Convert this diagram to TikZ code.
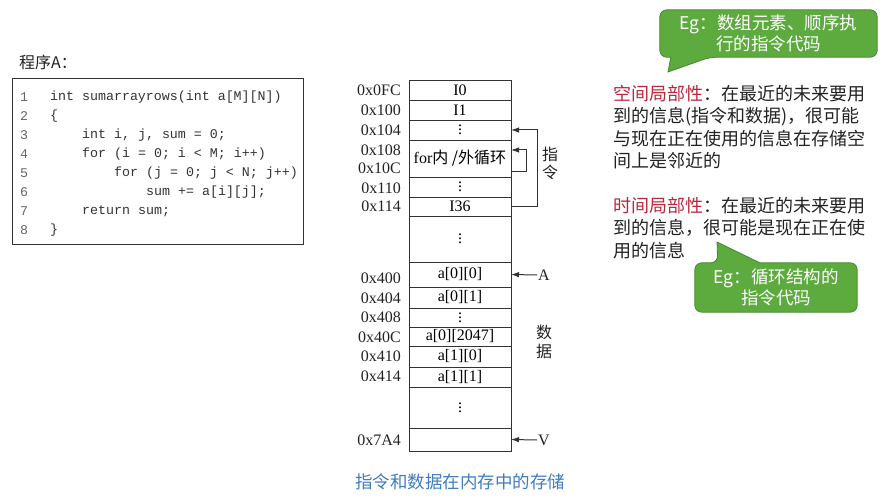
\documentclass[tikz,border=0pt]{standalone}
\usepackage{fontspec}
\setmainfont{Liberation Serif}
\setmonofont{Liberation Mono}
\newfontfamily\cjk{Noto Sans CJK SC}
\usetikzlibrary{arrows.meta, positioning, calc, backgrounds}
\definecolor{Ink}{HTML}{222222}
\definecolor{Frame}{HTML}{333333}
\definecolor{CodeGray}{HTML}{333333}
\definecolor{NumGray}{HTML}{666666}
\definecolor{Crimson}{HTML}{B8283C}
\definecolor{LeafGreen}{HTML}{5DAA3E}
\definecolor{DarkGreen}{HTML}{43882E}
\definecolor{CapBlue}{HTML}{3F7CC0}
\newcommand\celldots{\vbox{\baselineskip4pt\lineskiplimit0pt\hbox{.}\hbox{.}\hbox{.}}}

\begin{document}
\begin{tikzpicture}[
  x=1pt, y=-1pt,
  cell/.style={draw=Frame, line width=0.9pt, minimum width=102pt, inner sep=0pt, outer sep=0pt, font=\fontsize{16}{18}\selectfont},
  addr/.style={anchor=east, inner sep=0pt, font=\fontsize{16}{18}\selectfont, text=Ink},
  code/.style={anchor=west, inner sep=0pt, font=\ttfamily\fontsize{13.3}{15}\selectfont, text=CodeGray},
  lineno/.style={code, text=NumGray},
  arrow/.style={-{Latex[length=8pt, width=5.5pt]}, line width=1pt, draw=Frame},
  para/.style={anchor=north west, align=left, inner sep=0pt, font=\cjk\fontsize{18}{22.5}\selectfont, text=Ink},
  bubtext/.style={inner sep=0pt, text=white, align=center, font=\cjk\fontsize{17.5}{21}\selectfont},
  bubble/.style={fill=LeafGreen, draw=DarkGreen, line width=0.8pt}
]
\useasboundingbox (0,0) rectangle (883,497);

% program A
\node[anchor=west, inner sep=0pt, font=\cjk\fontsize{16}{18}\selectfont, text=Ink] (title) at (19,62) {程序A：};
\node[draw=Frame, line width=1pt, anchor=north west, minimum width=291pt, minimum height=166pt, inner sep=0pt] (codebox) at (12,78) {};

\node[lineno] (n1) at (20,97) {1};
\node[lineno] (n2) at (20,116) {2};
\node[lineno] (n3) at (20,135) {3};
\node[lineno] (n4) at (20,154) {4};
\node[lineno] (n5) at (20,173) {5};
\node[lineno] (n6) at (20,192) {6};
\node[lineno] (n7) at (20,211) {7};
\node[lineno] (n8) at (20,230) {8};

\node[code] (c1) at (50,97) {int sumarrayrows(int a[M][N])};
\node[code] (c2) at (50,116) {\{};
\node[code] (c3) at (82,135) {int i, j, sum = 0;};
\node[code] (c4) at (82,154) {for (i = 0; i < M; i++)};
\node[code] (c5) at (114,173) {for (j = 0; j < N; j++)};
\node[code] (c6) at (146,192) {sum += a[i][j];};
\node[code] (c7) at (82,211) {return sum;};
\node[code] (c8) at (50,230) {\}};

% memory layout
\node[cell, minimum height=20pt] (r0) at (460,90) {I0};
\node[cell, minimum height=20pt, below=0pt of r0] (r1) {I1};
\node[cell, minimum height=20pt, below=0pt of r1] (r2) {\celldots};
\node[cell, minimum height=37pt, below=0pt of r2] (r3) {for{\cjk 内 /外循环}};
\node[cell, minimum height=20pt, below=0pt of r3] (r4) {\celldots};
\node[cell, minimum height=19pt, below=0pt of r4] (r5) {I36};
\node[cell, minimum height=46pt, below=0pt of r5] (r6) {\celldots};
\node[cell, minimum height=25pt, below=0pt of r6] (r7) {a[0][0]};
\node[cell, minimum height=21pt, below=0pt of r7] (r8) {a[0][1]};
\node[cell, minimum height=19pt, below=0pt of r8] (r9) {\celldots};
\node[cell, minimum height=19pt, below=0pt of r9] (r10) {a[0][2047]};
\node[cell, minimum height=21pt, below=0pt of r10] (r11) {a[1][0]};
\node[cell, minimum height=20pt, below=0pt of r11] (r12) {a[1][1]};
\node[cell, minimum height=41pt, below=0pt of r12] (r13) {\celldots};
\node[cell, minimum height=23pt, below=0pt of r13] (r14) {};

\node[addr] (a0fc) at (401,90) {0x0FC};
\node[addr] (a100) at (401,110) {0x100};
\node[addr] (a104) at (401,130) {0x104};
\node[addr] (a108) at (401,150) {0x108};
\node[addr] (a10c) at (401,168) {0x10C};
\node[addr] (a110) at (401,188) {0x110};
\node[addr] (a114) at (401,206) {0x114};
\node[addr] (a400) at (401,278) {0x400};
\node[addr] (a404) at (401,298) {0x404};
\node[addr] (a408) at (401,317) {0x408};
\node[addr] (a40c) at (401,337) {0x40C};
\node[addr] (a410) at (401,356) {0x410};
\node[addr] (a414) at (401,376) {0x414};
\node[addr] (a7a4) at (401,440) {0x7A4};

% loops
\coordinate (innertop) at ($(r3.east)+(0,-8.5)$);
\coordinate (innerbot) at ($(r3.east)+(0,13.5)$);
\draw[arrow] (r5.east) -- ++(26,0) |- (r2.east);
\draw[arrow] (innerbot) -- ++(15,0) |- (innertop);

\node[inner sep=0pt, align=center, font=\cjk\fontsize{16}{18}\selectfont, text=Ink] (instr) at (550,163) {指\\令};
\node[inner sep=0pt, align=center, font=\cjk\fontsize{16}{19}\selectfont, text=Ink] (data) at (544,342) {数\\据};

\node[inner sep=1pt, font=\fontsize{16}{18}\selectfont, text=Ink] (ptrA) at (544,275) {A};
\node[inner sep=1pt, font=\fontsize{16}{18}\selectfont, text=Ink] (ptrV) at (544,440) {V};
\draw[arrow] (ptrA.west) -- (r7.east);
\draw[arrow] (ptrV.west) -- (r14.east);

\node[inner sep=0pt, font=\cjk\fontsize{17.5}{20}\selectfont, text=CapBlue] (caption) at (460,482) {指令和数据在内存中的存储};

% locality
\node[para] (spatial) at (613,85) {{\color{Crimson}空间局部性}：在最近的未来要用\\到的信息(指令和数据)，很可能\\与现在正在使用的信息在存储空\\间上是邻近的};
\node[para] (temporal) at (613,197) {{\color{Crimson}时间局部性}：在最近的未来要用\\到的信息，很可能是现在正在使\\用的信息};

% callouts
\node[bubtext, minimum width=217pt, minimum height=47pt] (egA) at (768.5,33.5) {Eg：数组元素、顺序执\\行的指令代码};
\coordinate (tipA) at (668,72);
\node[bubtext, minimum width=162pt, minimum height=49pt] (egB) at (776,287.5) {Eg：循环结构的\\指令代码};
\coordinate (tipB) at (717,242);
\begin{scope}[on background layer]
\draw[bubble] (egA.north) [rounded corners=7pt] -- (egA.north east) -- (egA.south east) -- ($(egA.south west)+(50,0)$) [sharp corners] -- (tipA) -- ($(egA.south west)+(11,0)$) [rounded corners=7pt] -- (egA.south west) -- (egA.north west) -- cycle;
\draw[bubble] (egB.south) [rounded corners=7pt] -- (egB.south west) -- (egB.north west) -- ($(egB.north west)+(23,0)$) [sharp corners] -- (tipB) -- ($(egB.north west)+(65,0)$) [rounded corners=7pt] -- (egB.north east) -- (egB.south east) -- cycle;
\end{scope}
\end{tikzpicture}
\end{document}
